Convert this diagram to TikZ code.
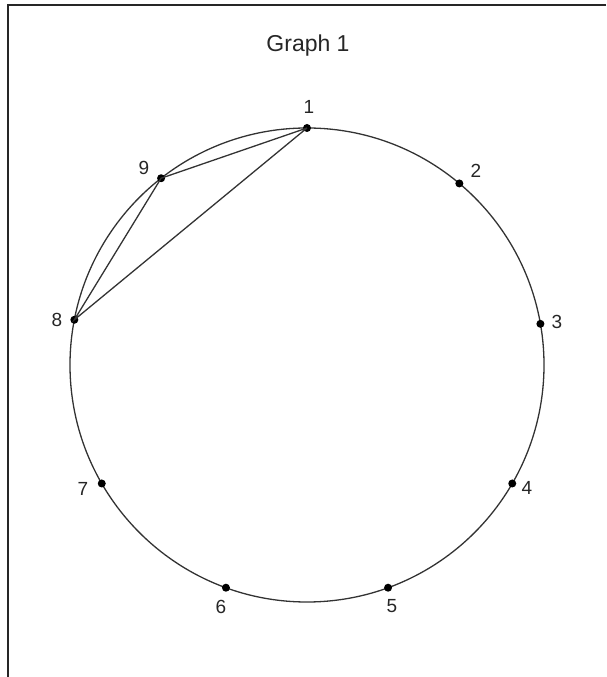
\documentclass[tikz,border=0pt]{standalone}
\usepackage{fontspec}
\setmainfont{Liberation Sans}
\begin{document}
\begin{tikzpicture}[x=1pt,y=1pt,
  dot/.style={circle,fill=black,inner sep=0pt,minimum size=8pt},
  lab/.style={font=\fontsize{19}{19}\selectfont,inner sep=0pt,text=black!85},
  edge/.style={line width=1.3pt,draw=black!80},
  frame/.style={line width=2pt,draw=black!85}]
\useasboundingbox (0,0) rectangle (606,677);
\draw[frame] (606,672) -- (8,672) -- (8,0);
\node[font=\fontsize{23}{23}\selectfont,inner sep=0pt,text=black!85] (title) at (308,631) {Graph 1};
\coordinate (c) at (307,312);
\draw[edge] (c) circle (237);
\foreach \i/\a in {1/90,2/50,3/10,4/-30,5/-70,6/-110,7/-150,8/169,9/128}
  \node[dot] (n\i) at ([shift={(c)}]\a:237) {};
\draw[edge] (n1.center) -- (n9.center) -- (n8.center) -- (n1.center);
\node[lab] (l1) at (309,570) {1};
\node[lab] (l2) at (476,506) {2};
\node[lab] (l3) at (557,355) {3};
\node[lab] (l4) at (527,189) {4};
\node[lab] (l5) at (392,71) {5};
\node[lab] (l6) at (221,70) {6};
\node[lab] (l7) at (83,188) {7};
\node[lab] (l8) at (57,357) {8};
\node[lab] (l9) at (144,509) {9};
\end{tikzpicture}
\end{document}
